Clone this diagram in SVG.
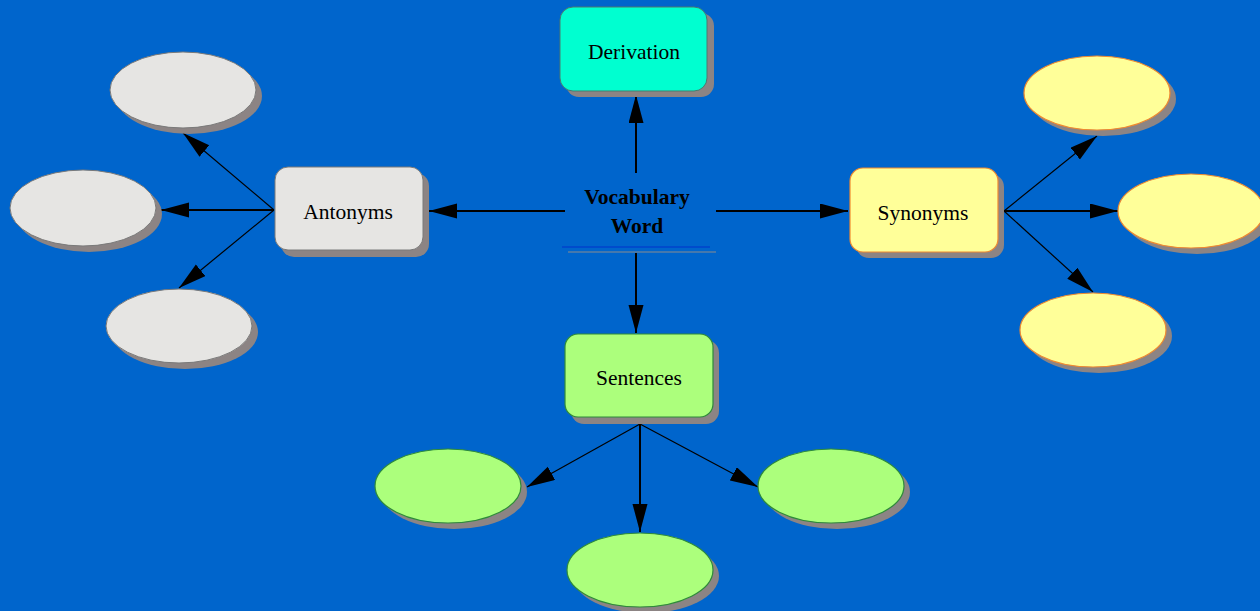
<svg xmlns="http://www.w3.org/2000/svg" width="1260" height="611" viewBox="0 0 1260 611">
<defs>
<marker id="ah" markerUnits="userSpaceOnUse" markerWidth="29" markerHeight="16" refX="28" refY="7.5" orient="auto">
<path d="M0,0 L28,7.5 L0,15 z" fill="#000"/>
</marker>
</defs>
<style>
.sh{fill:#8c8484;stroke:none}
.lbl{font-family:"Liberation Serif","Times New Roman",serif;font-size:21.5px;fill:#000;text-anchor:middle}
.cl{stroke:#000;stroke-width:2;fill:none}
.dl{stroke:#000;stroke-width:1.2;fill:none}
.gray{fill:#e6e5e3;stroke:#7a7a7a;stroke-width:1}
.yel{fill:#ffff99;stroke:#f08a30;stroke-width:1.2}
.grn{fill:#acff7c;stroke:#2e8b3a;stroke-width:1.2}
.cyn{fill:#00ffd0;stroke:#4a7a70;stroke-width:1}
</style>
<rect width="1260" height="611" fill="#0065cc"/>
<g id="connectors">
<line class="cl" x1="636" y1="173" x2="636" y2="95" marker-end="url(#ah)"/>
<line class="cl" x1="565" y1="211" x2="429" y2="211" marker-end="url(#ah)"/>
<line class="cl" x1="716" y1="211" x2="848" y2="211" marker-end="url(#ah)"/>
<line class="cl" x1="636" y1="253" x2="636" y2="333" marker-end="url(#ah)"/>
<line class="dl" x1="274" y1="210" x2="183" y2="133" marker-end="url(#ah)"/>
<line class="cl" x1="274" y1="210" x2="161" y2="210" marker-end="url(#ah)"/>
<line class="dl" x1="274" y1="210" x2="179" y2="288" marker-end="url(#ah)"/>
<line class="dl" x1="1004" y1="211" x2="1097" y2="136" marker-end="url(#ah)"/>
<line class="cl" x1="1004" y1="211" x2="1118" y2="211" marker-end="url(#ah)"/>
<line class="dl" x1="1004" y1="211" x2="1093" y2="292" marker-end="url(#ah)"/>
<line class="dl" x1="640" y1="424" x2="527" y2="487" marker-end="url(#ah)"/>
<line class="cl" x1="640" y1="424" x2="640" y2="532" marker-end="url(#ah)"/>
<line class="dl" x1="640" y1="424" x2="758" y2="487" marker-end="url(#ah)"/>
</g>
<g id="vocab">
<text x="637" y="204" font-family="'Liberation Serif','Times New Roman',serif" font-size="21.5" font-weight="bold" text-anchor="middle">Vocabulary</text>
<text x="637" y="233" font-family="'Liberation Serif','Times New Roman',serif" font-size="21.5" font-weight="bold" text-anchor="middle">Word</text>
<line x1="562" y1="247" x2="710" y2="247" stroke="#0033cc" stroke-width="1"/>
<line x1="568" y1="252" x2="716" y2="252" stroke="#8c8c8c" stroke-width="1"/>
</g>
<g id="derivation">
<rect class="sh" x="566" y="13" width="148" height="84" rx="13"/>
<rect class="cyn" x="560" y="7" width="147" height="84" rx="13"/>
<text class="lbl" x="634" y="59">Derivation</text>
</g>
<g id="antonyms">
<rect class="sh" x="281" y="173" width="148" height="84" rx="13"/>
<rect class="gray" x="275" y="167" width="148" height="83" rx="13"/>
<text class="lbl" x="348" y="219">Antonyms</text>
</g>
<g id="synonyms">
<rect class="sh" x="856" y="174" width="148" height="84" rx="13"/>
<rect class="yel" x="850" y="168" width="148" height="84" rx="13"/>
<text class="lbl" x="923" y="220">Synonyms</text>
</g>
<g id="sentences">
<rect class="sh" x="571" y="340" width="148" height="84" rx="13"/>
<rect class="grn" x="565" y="334" width="148" height="83" rx="13"/>
<text class="lbl" x="639" y="385">Sentences</text>
</g>
<g id="ant1"><ellipse class="sh" cx="189" cy="96" rx="73" ry="38"/><ellipse class="gray" cx="183" cy="90" rx="73" ry="38"/></g>
<g id="ant2"><ellipse class="sh" cx="89" cy="214" rx="73" ry="38"/><ellipse class="gray" cx="83" cy="208" rx="73" ry="38"/></g>
<g id="ant3"><ellipse class="sh" cx="185" cy="332" rx="73" ry="37"/><ellipse class="gray" cx="179" cy="326" rx="73" ry="37"/></g>
<g id="syn1"><ellipse class="sh" cx="1103" cy="99" rx="73" ry="37"/><ellipse class="yel" cx="1097" cy="93" rx="73" ry="37"/></g>
<g id="syn2"><ellipse class="sh" cx="1197" cy="217" rx="73" ry="37"/><ellipse class="yel" cx="1191" cy="211" rx="73" ry="37"/></g>
<g id="syn3"><ellipse class="sh" cx="1099" cy="336" rx="73" ry="37"/><ellipse class="yel" cx="1093" cy="330" rx="73" ry="37"/></g>
<g id="sen1"><ellipse class="sh" cx="454" cy="492" rx="73" ry="37"/><ellipse class="grn" cx="448" cy="486" rx="73" ry="37"/></g>
<g id="sen2"><ellipse class="sh" cx="646" cy="576" rx="73" ry="37"/><ellipse class="grn" cx="640" cy="570" rx="73" ry="37"/></g>
<g id="sen3"><ellipse class="sh" cx="837" cy="492" rx="73" ry="37"/><ellipse class="grn" cx="831" cy="486" rx="73" ry="37"/></g>
</svg>
